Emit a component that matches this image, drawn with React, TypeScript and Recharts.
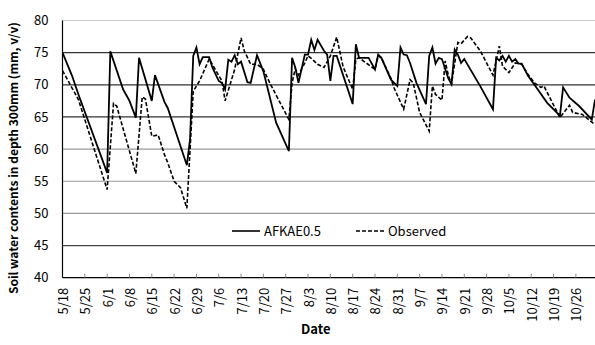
import { LineChart, Line, XAxis, YAxis, ReferenceLine, Legend, Label } from 'recharts';

// first day of each month, counted in days since 5/18
const MONTH_OFFSET: Record<number, number> = { 5: -18, 6: 13, 7: 43, 8: 74, 9: 105, 10: 135, 11: 166 };
const dayOf = (md: string) => {
  const [m, d] = md.split('/').map(Number);
  return MONTH_OFFSET[m] + d;
};

const tickDates = [
  '5/18', '5/25', '6/1', '6/8', '6/15', '6/22', '6/29', '7/6', '7/13', '7/20', '7/27', '8/3',
  '8/10', '8/17', '8/24', '8/31', '9/7', '9/14', '9/21', '9/28', '10/5', '10/12', '10/19', '10/26',
];
const yTicks = [40, 45, 50, 55, 60, 65, 70, 75, 80];

const afkaeDates = [
  '5/18', '5/21', '5/23', '6/1', '6/2', '6/6', '6/8', '6/10', '6/11', '6/15', '6/16', '6/19', '6/20',
  '6/26', '6/27', '6/28', '6/29', '6/30', '7/1', '7/3', '7/4', '7/6', '7/7', '7/8', '7/9', '7/10',
  '7/11', '7/12', '7/13', '7/15', '7/16', '7/18', '7/20', '7/24', '7/28', '7/29', '7/30', '7/31',
  '8/2', '8/3', '8/4', '8/5', '8/6', '8/8', '8/9', '8/10', '8/11', '8/12', '8/17', '8/18', '8/19',
  '8/22', '8/24', '8/25', '8/26', '8/29', '8/31', '9/1', '9/2', '9/3', '9/4', '9/6', '9/9', '9/10',
  '9/11', '9/12', '9/13', '9/14', '9/16', '9/17', '9/18', '9/19', '9/20', '9/21', '9/26', '9/30',
  '10/1', '10/2', '10/3', '10/4', '10/5', '10/6', '10/7', '10/8', '10/9', '10/11', '10/14', '10/17',
  '10/21', '10/22', '10/24', '10/27', '10/31', '11/1',
];
const afkaeValues = [
  75.0, 71.4, 68.5, 56.3, 75.2, 69.3, 67.5, 64.9, 74.2, 67.5, 71.5, 67.3, 66.4,
  57.5, 61.5, 74.5, 75.8, 73.2, 74.3, 74.3, 72.7, 70.6, 70.3, 69.3, 73.9, 73.6,
  74.6, 73.2, 73.6, 70.4, 70.3, 74.6, 72.1, 64.1, 59.7, 74.2, 72.7, 70.3,
  74.7, 74.7, 77.0, 75.4, 77.0, 75.3, 74.7, 70.6, 74.5, 74.5, 67.0, 76.3, 74.2,
  74.2, 72.4, 74.7, 74.2, 70.8, 69.8, 75.8, 74.7, 74.6, 73.4, 70.3, 67.0, 74.5,
  75.8, 73.3, 74.2, 74.0, 71.0, 70.1, 75.5, 74.7, 73.4, 74.0, 69.8, 66.2,
  74.2, 73.8, 74.5, 73.6, 74.5, 73.6, 74.0, 73.3, 73.3, 71.4, 69.3, 67.2,
  65.2, 69.6, 68.0, 66.7, 64.6, 67.7,
];

const observedDates = [
  '5/18', '5/21', '5/23', '6/1', '6/3', '6/4', '6/10', '6/12', '6/13', '6/15', '6/17', '6/19', '6/20',
  '6/22', '6/24', '6/26', '6/28', '6/29', '6/30', '7/3', '7/7', '7/8', '7/11', '7/13', '7/14', '7/16',
  '7/18', '7/20', '7/22', '7/28', '7/29', '7/30', '7/31', '8/2', '8/3', '8/4', '8/6', '8/8', '8/10',
  '8/12', '8/14', '8/17', '8/18', '8/19', '8/24', '8/25', '8/26', '8/29', '8/30', '9/2', '9/4', '9/5',
  '9/7', '9/10', '9/11', '9/12', '9/14', '9/15', '9/16', '9/17', '9/19', '9/20', '9/22', '9/23',
  '9/26', '9/30', '10/2', '10/3', '10/5', '10/7', '10/9', '10/11', '10/13', '10/15', '10/16',
  '10/21', '10/24', '10/25', '10/28', '11/1',
];
const observedValues = [
  72.2, 69.5, 67.7, 53.7, 67.1, 66.7, 56.2, 68.1, 67.8, 62.0, 62.2, 59.1, 57.9,
  55.0, 54.0, 50.8, 69.0, 69.8, 70.6, 74.0, 70.6, 67.5, 72.4, 77.3, 75.3, 73.2,
  73.2, 72.4, 70.3, 64.6, 70.3, 72.5, 71.5, 73.4, 74.5, 74.1, 73.2, 72.7, 74.5,
  77.4, 72.8, 69.3, 74.0, 74.2, 72.4, 74.5, 74.2, 71.0, 69.5, 66.2, 70.8, 70.3,
  65.7, 62.8, 69.8, 68.5, 67.6, 73.7, 71.5, 70.1, 76.6, 76.4, 77.5, 77.3,
  75.3, 71.5, 76.0, 72.9, 71.9, 73.4, 73.2, 71.6, 70.3, 69.6, 69.8,
  64.9, 66.8, 65.7, 65.4, 63.8,
];

// gridline shades as they appear in the scan
const gridColors: Record<number, string> = {
  45: '#444', 50: '#999', 55: '#999', 60: '#999', 65: '#333', 70: '#333', 75: '#333', 80: '#c8c8c8',
};

const afkae = afkaeDates.map((d, i) => ({ day: dayOf(d), value: afkaeValues[i] }));
const observed = observedDates.map((d, i) => ({ day: dayOf(d), value: observedValues[i] }));
const labelByDay: Record<number, string> = Object.fromEntries(tickDates.map(d => [dayOf(d), d]));

const FONT = '"Noto Sans CJK JP", "DejaVu Sans", sans-serif';

// eslint-disable-next-line @typescript-eslint/no-explicit-any
function DateTick({ x, y, payload }: any) {
  return (
    <text x={x} y={y} transform={`rotate(-90 ${x} ${y})`} textAnchor="end" dominantBaseline="central"
      fontSize={13} fontFamily={FONT} fill="#000">
      {labelByDay[payload.value]}
    </text>
  );
}

// eslint-disable-next-line @typescript-eslint/no-explicit-any
function LegendBox({ payload }: any) {
  return (
    <div style={{ display: 'flex', alignItems: 'center', fontFamily: FONT, fontSize: 13, color: '#000' }}>
      {/* eslint-disable-next-line @typescript-eslint/no-explicit-any */}
      {(payload || []).map((p: any, i: number) => (
        <div key={p.value} style={{ display: 'flex', alignItems: 'center', marginLeft: i ? 35 : 0 }}>
          <svg width={28} height={12}>
            <line x1={0} y1={6} x2={28} y2={6} stroke="#000" strokeWidth={1.6}
              strokeDasharray={p.value === 'Observed' ? '4 2' : undefined} />
          </svg>
          <span style={{ marginLeft: 4 }}>{p.value}</span>
        </div>
      ))}
    </div>
  );
}

export default function App() {
  return (
    <div style={{ position: 'absolute', left: 0, top: 0, background: '#fff' }}>
      <LineChart width={595} height={345} margin={{ top: 20.5, right: 0, bottom: 0, left: 0 }}>
        {yTicks.filter(v => v > 40).map(v => (
          <ReferenceLine key={v} y={v} stroke={gridColors[v]} strokeWidth={1.2} />
        ))}
        <XAxis type="number" dataKey="day" domain={[0, 167]} ticks={tickDates.map(dayOf)} interval={0}
          allowDataOverflow height={67.3} tick={<DateTick />} tickSize={-4} tickMargin={14}
          axisLine={{ stroke: '#000', strokeWidth: 1.2 }} tickLine={{ stroke: '#888' }}>
          <Label content={({ viewBox }: any) => (
            <text x={viewBox.x + viewBox.width / 2 - 13} y={viewBox.y + 56} textAnchor="middle"
              fontSize={13} fontWeight="bold" fontFamily={FONT} fill="#000">Date</text>
          )} />
        </XAxis>
        <YAxis type="number" domain={[40, 80]} ticks={yTicks} interval={0} width={62.5}
          tick={{ fontSize: 13, fill: '#000', fontFamily: FONT }} tickLine={false} tickMargin={8}
          axisLine={{ stroke: '#000', strokeWidth: 1.2 }}>
          <Label content={({ viewBox }: any) => {
            const cx = viewBox.x + 13;
            const cy = viewBox.y + viewBox.height / 2 + 9;
            return (
              <text x={cx} y={cy} transform={`rotate(-90 ${cx} ${cy})`} textAnchor="middle"
                dominantBaseline="central" fontSize={12} fontWeight="bold" fontFamily={FONT} fill="#000">
                Soil water contents in depth 300mm (mm, v/v)
              </text>
            );
          }} />
        </YAxis>
        <Legend layout="horizontal" verticalAlign="middle" align="center" content={<LegendBox />}
          wrapperStyle={{ top: 221, left: 232, width: 'auto' }} />
        <Line data={afkae} dataKey="value" name="AFKAE0.5" type="linear" stroke="#000" strokeWidth={1.8}
          dot={false} isAnimationActive={false} />
        <Line data={observed} dataKey="value" name="Observed" type="linear" stroke="#000" strokeWidth={1.6}
          strokeDasharray="4 2" dot={false} isAnimationActive={false} />
      </LineChart>
    </div>
  );
}
